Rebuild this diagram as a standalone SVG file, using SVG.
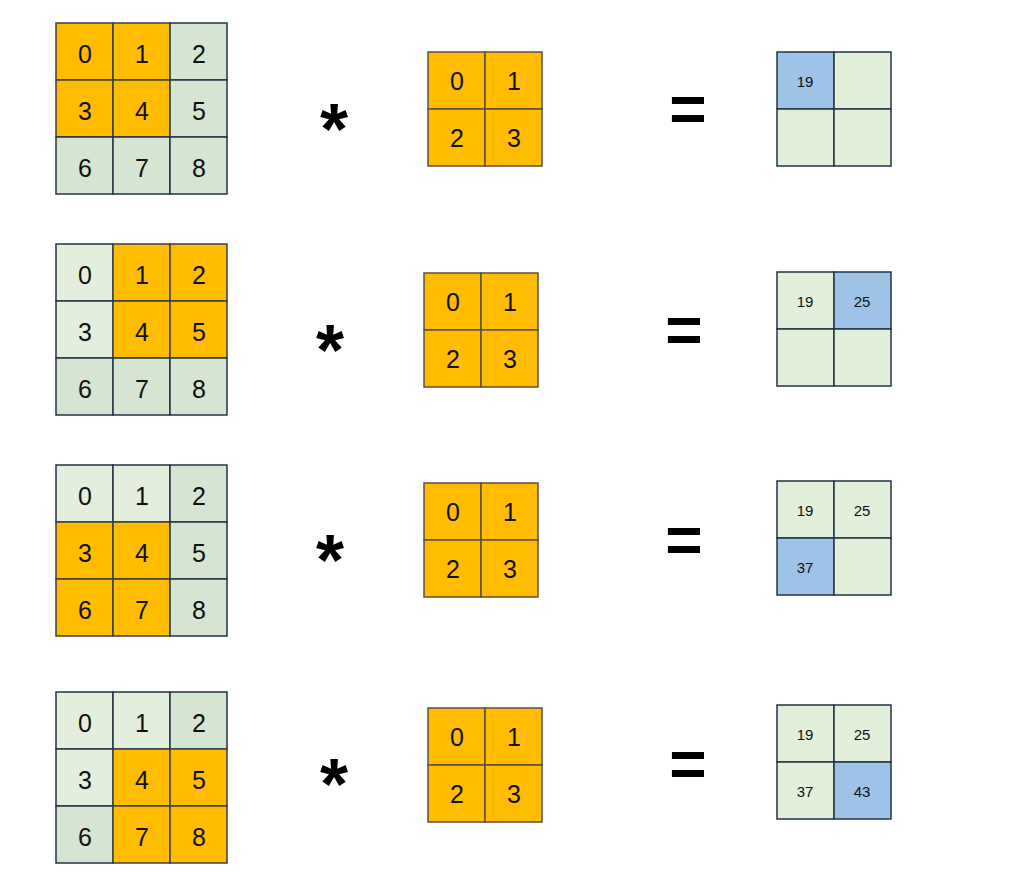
<svg xmlns="http://www.w3.org/2000/svg" width="1036" height="885" viewBox="0 0 1036 885">
<style>
.bg{fill:#ffffff}
.o{fill:#FFBC00;stroke:#3a3f4a;stroke-width:1.5}
.g{fill:#E3EEDC;stroke:#233447;stroke-width:1.5}
.d{fill:#D6E4D2;stroke:#233447;stroke-width:1.5}
.k{fill:#FFBC00;stroke:#5a5040;stroke-width:1.5}
.r{fill:#E2EFDA;stroke:#233447;stroke-width:1.5}
.b{fill:#9DC3E6;stroke:#233447;stroke-width:1.5}
.t{font-family:"Liberation Sans",Arial,sans-serif;font-size:25px;fill:#111;text-anchor:middle}
.s{font-family:"Liberation Sans",Arial,sans-serif;font-size:15px;fill:#111;text-anchor:middle}
.op{font-family:"Liberation Sans",Arial,sans-serif;font-weight:bold;fill:#000;text-anchor:middle}
</style>
<rect class="bg" x="0" y="0" width="1036" height="885"/>

<!-- Row 1 -->
<g id="input1">
<rect class="o" x="56" y="23" width="57" height="57"/><rect class="o" x="113" y="23" width="57" height="57"/><rect class="d" x="170" y="23" width="57" height="57"/>
<rect class="o" x="56" y="80" width="57" height="57"/><rect class="o" x="113" y="80" width="57" height="57"/><rect class="d" x="170" y="80" width="57" height="57"/>
<rect class="d" x="56" y="137" width="57" height="57"/><rect class="d" x="113" y="137" width="57" height="57"/><rect class="d" x="170" y="137" width="57" height="57"/>
<text class="t" x="85" y="63">0</text><text class="t" x="142" y="63">1</text><text class="t" x="199" y="63">2</text>
<text class="t" x="85" y="120">3</text><text class="t" x="142" y="120">4</text><text class="t" x="199" y="120">5</text>
<text class="t" x="85" y="177">6</text><text class="t" x="142" y="177">7</text><text class="t" x="199" y="177">8</text>
</g>
<g id="op1"><text class="op" x="334" y="154" font-size="72">*</text><text class="op" x="688" y="131" font-size="64">=</text></g>
<g id="kernel1">
<rect class="k" x="428" y="52" width="57" height="57"/><rect class="k" x="485" y="52" width="57" height="57"/>
<rect class="k" x="428" y="109" width="57" height="57"/><rect class="k" x="485" y="109" width="57" height="57"/>
<text class="t" x="457" y="90">0</text><text class="t" x="514" y="90">1</text>
<text class="t" x="457" y="147">2</text><text class="t" x="514" y="147">3</text>
</g>
<g id="result1">
<rect class="b" x="777" y="52" width="57" height="57"/><rect class="r" x="834" y="52" width="57" height="57"/>
<rect class="r" x="777" y="109" width="57" height="57"/><rect class="r" x="834" y="109" width="57" height="57"/>
<text class="s" x="805" y="87">19</text>
</g>

<!-- Row 2 -->
<g id="input2">
<rect class="g" x="56" y="244" width="57" height="57"/><rect class="o" x="113" y="244" width="57" height="57"/><rect class="o" x="170" y="244" width="57" height="57"/>
<rect class="g" x="56" y="301" width="57" height="57"/><rect class="o" x="113" y="301" width="57" height="57"/><rect class="o" x="170" y="301" width="57" height="57"/>
<rect class="d" x="56" y="358" width="57" height="57"/><rect class="d" x="113" y="358" width="57" height="57"/><rect class="d" x="170" y="358" width="57" height="57"/>
<text class="t" x="85" y="284">0</text><text class="t" x="142" y="284">1</text><text class="t" x="199" y="284">2</text>
<text class="t" x="85" y="341">3</text><text class="t" x="142" y="341">4</text><text class="t" x="199" y="341">5</text>
<text class="t" x="85" y="398">6</text><text class="t" x="142" y="398">7</text><text class="t" x="199" y="398">8</text>
</g>
<g id="op2"><text class="op" x="330" y="375" font-size="72">*</text><text class="op" x="684" y="352" font-size="64">=</text></g>
<g id="kernel2">
<rect class="k" x="424" y="273" width="57" height="57"/><rect class="k" x="481" y="273" width="57" height="57"/>
<rect class="k" x="424" y="330" width="57" height="57"/><rect class="k" x="481" y="330" width="57" height="57"/>
<text class="t" x="453" y="311">0</text><text class="t" x="510" y="311">1</text>
<text class="t" x="453" y="368">2</text><text class="t" x="510" y="368">3</text>
</g>
<g id="result2">
<rect class="r" x="777" y="272" width="57" height="57"/><rect class="b" x="834" y="272" width="57" height="57"/>
<rect class="r" x="777" y="329" width="57" height="57"/><rect class="r" x="834" y="329" width="57" height="57"/>
<text class="s" x="805" y="307">19</text><text class="s" x="862" y="307">25</text>
</g>

<!-- Row 3 -->
<g id="input3">
<rect class="g" x="56" y="465" width="57" height="57"/><rect class="g" x="113" y="465" width="57" height="57"/><rect class="d" x="170" y="465" width="57" height="57"/>
<rect class="o" x="56" y="522" width="57" height="57"/><rect class="o" x="113" y="522" width="57" height="57"/><rect class="d" x="170" y="522" width="57" height="57"/>
<rect class="o" x="56" y="579" width="57" height="57"/><rect class="o" x="113" y="579" width="57" height="57"/><rect class="d" x="170" y="579" width="57" height="57"/>
<text class="t" x="85" y="505">0</text><text class="t" x="142" y="505">1</text><text class="t" x="199" y="505">2</text>
<text class="t" x="85" y="562">3</text><text class="t" x="142" y="562">4</text><text class="t" x="199" y="562">5</text>
<text class="t" x="85" y="619">6</text><text class="t" x="142" y="619">7</text><text class="t" x="199" y="619">8</text>
</g>
<g id="op3"><text class="op" x="330" y="585" font-size="72">*</text><text class="op" x="684" y="562" font-size="64">=</text></g>
<g id="kernel3">
<rect class="k" x="424" y="483" width="57" height="57"/><rect class="k" x="481" y="483" width="57" height="57"/>
<rect class="k" x="424" y="540" width="57" height="57"/><rect class="k" x="481" y="540" width="57" height="57"/>
<text class="t" x="453" y="521">0</text><text class="t" x="510" y="521">1</text>
<text class="t" x="453" y="578">2</text><text class="t" x="510" y="578">3</text>
</g>
<g id="result3">
<rect class="r" x="777" y="481" width="57" height="57"/><rect class="r" x="834" y="481" width="57" height="57"/>
<rect class="b" x="777" y="538" width="57" height="57"/><rect class="r" x="834" y="538" width="57" height="57"/>
<text class="s" x="805" y="516">19</text><text class="s" x="862" y="516">25</text>
<text class="s" x="805" y="573">37</text>
</g>

<!-- Row 4 -->
<g id="input4">
<rect class="g" x="56" y="692" width="57" height="57"/><rect class="g" x="113" y="692" width="57" height="57"/><rect class="d" x="170" y="692" width="57" height="57"/>
<rect class="g" x="56" y="749" width="57" height="57"/><rect class="o" x="113" y="749" width="57" height="57"/><rect class="o" x="170" y="749" width="57" height="57"/>
<rect class="d" x="56" y="806" width="57" height="57"/><rect class="o" x="113" y="806" width="57" height="57"/><rect class="o" x="170" y="806" width="57" height="57"/>
<text class="t" x="85" y="732">0</text><text class="t" x="142" y="732">1</text><text class="t" x="199" y="732">2</text>
<text class="t" x="85" y="789">3</text><text class="t" x="142" y="789">4</text><text class="t" x="199" y="789">5</text>
<text class="t" x="85" y="846">6</text><text class="t" x="142" y="846">7</text><text class="t" x="199" y="846">8</text>
</g>
<g id="op4"><text class="op" x="334" y="809" font-size="72">*</text><text class="op" x="688" y="786" font-size="64">=</text></g>
<g id="kernel4">
<rect class="k" x="428" y="708" width="57" height="57"/><rect class="k" x="485" y="708" width="57" height="57"/>
<rect class="k" x="428" y="765" width="57" height="57"/><rect class="k" x="485" y="765" width="57" height="57"/>
<text class="t" x="457" y="746">0</text><text class="t" x="514" y="746">1</text>
<text class="t" x="457" y="803">2</text><text class="t" x="514" y="803">3</text>
</g>
<g id="result4">
<rect class="r" x="777" y="705" width="57" height="57"/><rect class="r" x="834" y="705" width="57" height="57"/>
<rect class="r" x="777" y="762" width="57" height="57"/><rect class="b" x="834" y="762" width="57" height="57"/>
<text class="s" x="805" y="740">19</text><text class="s" x="862" y="740">25</text>
<text class="s" x="805" y="797">37</text><text class="s" x="862" y="797">43</text>
</g>
<g id="connectors"></g>
</svg>
